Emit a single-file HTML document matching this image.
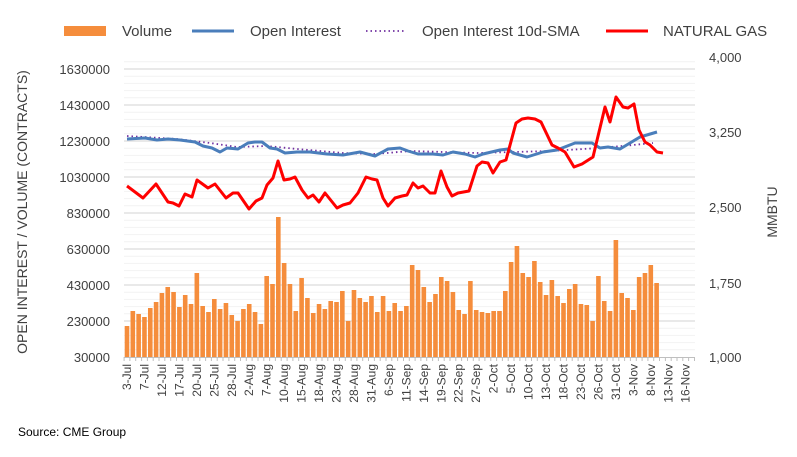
<!DOCTYPE html>
<html><head><meta charset="utf-8">
<style>
html,body{margin:0;padding:0;background:#fff;}
svg{display:block;font-family:"Liberation Sans",sans-serif;}
</style></head>
<body>
<svg id="c" width="797" height="457" viewBox="0 0 797 457" xmlns="http://www.w3.org/2000/svg">
<g id="grid"></g>
<g id="bars" fill="#f58d3c"></g>
<line x1="124" y1="357.5" x2="695" y2="357.5" stroke="#bfbfbf" stroke-width="1"/>
<g id="ticks" stroke="#bfbfbf"></g>
<polyline fill="none" stroke="#7030a0" stroke-width="1.8" stroke-dasharray="1.5,3" points="127,136 177,139 210,143 237,147 267,146 297,149 343,153 375,154 410,151 477,153 550,151 600,148 633,145 653,143"/>
<polyline fill="none" stroke="#4a7ebb" stroke-width="3" stroke-linejoin="round" points="127,139 145,138 157,140 168,139 180,140 195,142 203,146 212,148 220,152 227,148 238,149 248,143 255,142 262,142 270,148 277,149 285,153 297,152 310,152 327,154 343,155 360,152 375,156 388,149 400,148 408,151 418,154 433,154 443,155 453,152 465,154 475,157 483,154 500,150 508,149 513,153 527,157 543,152 557,150 575,143 592,143 600,148 608,147 620,149 630,143 640,137 657,132"/>
<polyline fill="none" stroke="#ff0000" stroke-width="3" stroke-linejoin="round" points="127,186 143,198 156,184 168,202 173,203 179,206 185,194 192,197 197,180 208,188 215,184 226,198 233,193 238,193 249,209 256,201 262,198 267,185 273,178 278,161 284,180 290,179 295,177 302,190 308,198 313,195 319,202 325,193 337,208 343,205 350,203 358,193 366,177 372,179 377,180 383,198 388,206 395,198 402,196 407,195 413,183 418,188 423,186 430,193 435,193 441,171 447,187 452,196 458,193 469,191 477,166 482,162 488,163 493,173 500,162 506,160 516,123 522,119 528,118 535,119 541,122 552,145 558,148 565,152 574,167 582,164 593,157 605,107 610,122 616,97 623,107 628,108 634,104 639,130 645,142 650,145 657,152 663,153"/>
<g id="ylab" font-size="13" fill="#404040" text-anchor="end"></g>
<g font-size="13" fill="#404040">
<text x="709" y="62">4,000</text>
<text x="709" y="137">3,250</text>
<text x="709" y="212">2,500</text>
<text x="709" y="288">1,750</text>
<text x="709" y="362">1,000</text>
</g>
<g id="xlab" font-size="12" fill="#404040" text-anchor="end"></g>
<text transform="translate(27,212) rotate(-90)" font-size="14" fill="#404040" text-anchor="middle">OPEN INTEREST / VOLUME (CONTRACTS)</text>
<text transform="translate(777,212) rotate(-90)" font-size="14" fill="#404040" text-anchor="middle">MMBTU</text>
<g font-size="15" fill="#404040">
<rect x="64" y="26" width="42" height="10" fill="#f58d3c"/>
<text x="122" y="36">Volume</text>
<line x1="192" y1="31" x2="234" y2="31" stroke="#4a7ebb" stroke-width="3"/>
<text x="250" y="36">Open Interest</text>
<line x1="366" y1="31" x2="406" y2="31" stroke="#7030a0" stroke-width="1.8" stroke-dasharray="1.5,3"/>
<text x="422" y="36">Open Interest 10d-SMA</text>
<line x1="606" y1="31" x2="648" y2="31" stroke="#ff0000" stroke-width="3"/>
<text x="663" y="36">NATURAL GAS</text>
</g>
<text x="18" y="436" font-size="12" fill="#000">Source: CME Group</text>
</svg>
<script>
var ns="http://www.w3.org/2000/svg";
function el(p,t,a,txt){var e=document.createElementNS(ns,t);for(var k in a)e.setAttribute(k,a[k]);if(txt)e.textContent=txt;document.getElementById(p).appendChild(e);}
for(var y=357-7.2;y>60;y-=7.2){el("grid","line",{x1:124,x2:695,y1:y.toFixed(1),y2:y.toFixed(1),stroke:"#f2f2f2","stroke-width":1});}
var labs=["1630000","1430000","1230000","1030000","830000","630000","430000","230000","30000"];
for(var i=0;i<9;i++){var y=69+36*i;if(i<8)el("grid","line",{x1:124,x2:695,y1:y,y2:y,stroke:"#dcdcdc","stroke-width":1.3});el("ylab","text",{x:110,y:y+5},labs[i]);}
var tops=[326,311,314,317,308,302,293,287,292,307,295,304,273,306,312,299,309,303,315,321,309,304,312,324,276,284,217,263,284,311,278,298,313,304,309,301,302,291,321,290,298,302,296,312,296,311,303,311,306,265,270,287,302,294,277,281,292,310,314,281,310,312,313,311,311,291,262,246,273,277,261,282,295,280,296,303,289,284,304,305,321,276,301,311,240,293,298,310,277,273,265,283];
var sp=5.82,x0=127;
for(var i=0;i<tops.length;i++){var cx=x0+i*sp;el("bars","rect",{x:(cx-2.3).toFixed(2),y:tops[i],width:4.6,height:357-tops[i]});}
for(var i=0;i<=98;i++){var x=x0-sp/2+i*sp;el("ticks","line",{x1:x.toFixed(1),x2:x.toFixed(1),y1:357,y2:361});}
var xl=["3-Jul","7-Jul","12-Jul","17-Jul","20-Jul","25-Jul","28-Jul","2-Aug","7-Aug","10-Aug","15-Aug","18-Aug","23-Aug","28-Aug","31-Aug","6-Sep","11-Sep","14-Sep","19-Sep","22-Sep","27-Sep","2-Oct","5-Oct","10-Oct","13-Oct","18-Oct","23-Oct","26-Oct","31-Oct","3-Nov","8-Nov","13-Nov","16-Nov"];
for(var i=0;i<xl.length;i++){var x=x0+i*3*sp+4;el("xlab","text",{transform:"translate("+x.toFixed(1)+",364) rotate(-90)"},xl[i]);}
</script>
</body></html>
